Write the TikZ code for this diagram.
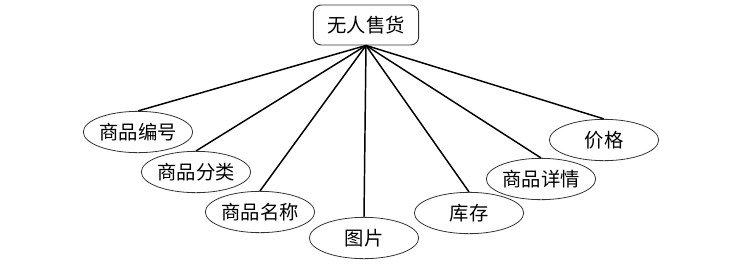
\documentclass[tikz,border=0pt]{standalone}
\usepackage{fontspec}
\setmainfont{Noto Sans CJK SC}
\usetikzlibrary{shapes.geometric}

\begin{document}
\begin{tikzpicture}[x=0.75pt, y=-0.75pt, font=\fontsize{14.5pt}{16pt}\selectfont,
  root/.style={draw=black!80, rounded corners=6pt, line width=0.7pt, minimum width=79pt, minimum height=30pt, inner sep=0pt},
  attr/.style={ellipse, draw=black!80, line width=0.6pt, minimum width=82pt, minimum height=31pt, inner sep=0pt},
  link/.style={line width=1.1pt}]
\useasboundingbox (0,0) rectangle (755,275);
\node[root] (shop) at (366,25) {无人售货};
\node[attr] (bh) at (138,132) {商品编号};
\node[attr] (fl) at (196,172) {商品分类};
\node[attr] (mc) at (260,212) {商品名称};
\node[attr] (tp) at (364,238) {图片};
\node[attr] (kc) at (469,213) {库存};
\node[attr] (xq) at (541,179) {商品详情};
\node[attr] (jg) at (604,140) {价格};
\foreach \n in {bh,fl,mc,tp,kc,xq,jg}
  \draw[link] (shop.south) -- (\n.north);
\end{tikzpicture}
\end{document}
